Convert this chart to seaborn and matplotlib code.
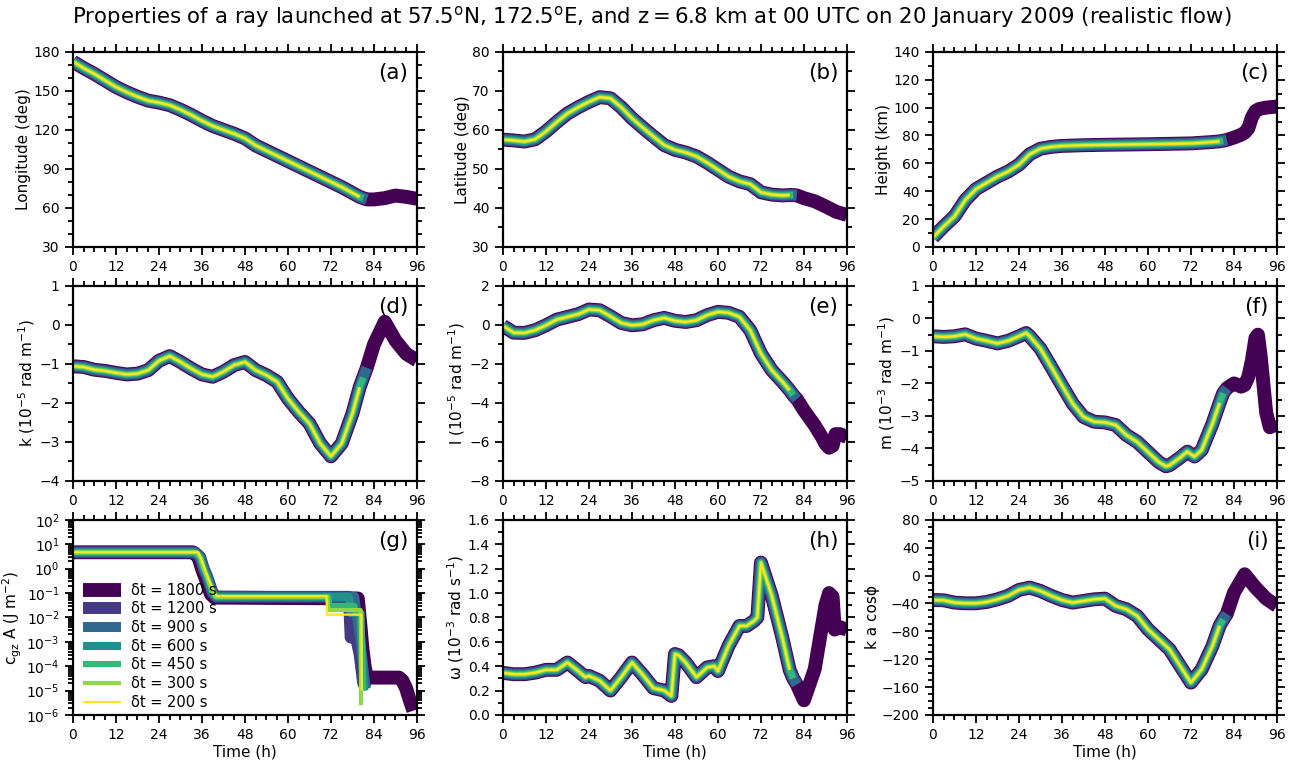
import numpy as np
import matplotlib
matplotlib.use("Agg")
import matplotlib.pyplot as plt
from matplotlib.ticker import MultipleLocator, LogLocator, NullFormatter, FormatStrFormatter
import seaborn as sns

# ---------------- data ----------------
DT_LABELS = [1800, 1200, 900, 600, 450, 300, 200]
SERIES_END = {1800: 96, 1200: 82, 900: 82, 600: 81, 450: 81, 300: 80, 200: 80}

T_COMMON = [0, 3, 6, 9, 12, 15, 18, 21, 24, 27, 30, 33, 36, 39, 42, 45, 48, 51, 54, 57,
            60, 63, 66, 69, 72, 75, 78, 80, 81, 82, 84, 87, 90, 93, 96]

LON = [172.5, 167.5, 163, 158, 153, 149, 145.5, 142.5, 141, 139, 135.5, 131.5, 127, 123,
       120, 117, 113.5, 108, 104, 100, 96, 92, 88, 84, 80, 76, 71.5, 68.5, 67.5, 66.5,
       66.5, 67.5, 69.5, 68.5, 67]

LAT = [57.5, 57.3, 57.0, 57.6, 59.6, 62.0, 64.2, 65.8, 67.2, 68.4, 68.1, 65.8, 63, 60.6,
       58.3, 56.1, 54.9, 54.2, 53.2, 51.6, 49.8, 48.0, 46.8, 46.1, 44, 43.4, 43.2, 43.3,
       43.3, 43.2, 42.5, 41.7, 40.4, 39, 38.2]

T_HGT = [0, 3, 6, 9, 12, 15, 18, 21, 24, 27, 30, 33, 36, 42, 48, 54, 60, 66, 72, 75, 78,
         80, 81, 82, 84, 86, 87, 88, 89, 90, 91, 93, 96]
HGT = [6.8, 14.7, 21.9, 33.5, 41.5, 46, 50.5, 54.1, 59, 66.5, 70.5, 71.8, 72.5, 73, 73.3,
       73.5, 73.7, 74, 74.3, 74.8, 75.3, 75.8, 76.2, 76.8, 78.5, 80.5, 82, 85, 93, 97.5,
       99, 100, 100.8]

K = [-1.06, -1.08, -1.15, -1.18, -1.23, -1.27, -1.25, -1.16, -0.92, -0.8, -0.95, -1.12,
     -1.27, -1.33, -1.2, -1.03, -0.95, -1.16, -1.29, -1.46, -1.89, -2.23, -2.53, -3.04,
     -3.37, -3.04, -2.27, -1.6, -1.35, -1.1, -0.5, 0.08, -0.4, -0.74, -0.91]

T_L = [0, 3, 6, 9, 12, 15, 18, 21, 24, 27, 30, 33, 36, 39, 42, 45, 48, 51, 54, 57, 60, 63,
       66, 69, 72, 75, 78, 80, 81, 82, 84, 87, 89, 90, 91, 92, 92.8, 94, 96]
L = [-0.05, -0.4, -0.41, -0.27, -0.02, 0.27, 0.41, 0.55, 0.79, 0.75, 0.44, 0.1, -0.02, 0.03,
     0.24, 0.36, 0.21, 0.15, 0.24, 0.5, 0.67, 0.62, 0.41, -0.27, -1.47, -2.32, -2.92, -3.35,
     -3.6, -3.8, -4.38, -5.15, -5.75, -6.1, -6.3, -6.2, -5.6, -5.6, -5.75]

T_M = [0, 3, 6, 9, 12, 15, 18, 21, 24, 26, 27, 30, 33, 36, 39, 42, 45, 48, 51, 54, 57, 60,
       63, 65, 66, 69, 71, 72, 73, 75, 78, 80, 81, 82, 84, 86, 87, 88, 89, 90, 90.7, 91.5,
       93, 94, 96]
M = [-0.55, -0.57, -0.55, -0.49, -0.62, -0.69, -0.77, -0.69, -0.55, -0.45, -0.55, -0.93,
     -1.49, -2.06, -2.62, -3.03, -3.18, -3.2, -3.28, -3.59, -3.8, -4.11, -4.42, -4.55,
     -4.52, -4.28, -4.1, -4.18, -4.25, -4.05, -3.24, -2.6, -2.3, -2.15, -2.0, -2.1, -2.05,
     -1.8, -1.3, -0.6, -0.5, -1.2, -2.9, -3.35, -3.25]

T_OMEGA = [0, 3, 6, 9, 12, 15, 18, 21, 23, 24, 27, 30, 33, 36, 39, 42, 45, 47, 48, 49, 51,
           54, 57, 59, 60, 63, 66, 68, 70, 71, 72, 75, 78, 80, 81, 82, 84, 87, 90, 91, 92,
           92.6, 94, 96]
OMEGA = [0.345, 0.334, 0.334, 0.347, 0.37, 0.37, 0.43, 0.36, 0.31, 0.32, 0.28, 0.2, 0.31,
         0.43, 0.33, 0.22, 0.2, 0.156, 0.5, 0.49, 0.43, 0.31, 0.39, 0.4, 0.36, 0.57, 0.73,
         0.73, 0.77, 0.8, 1.25, 0.98, 0.63, 0.37, 0.3, 0.25, 0.12, 0.375, 0.9, 1.0, 0.97,
         0.7, 0.72, 0.7]

KACOS = [-35, -35.4, -38.7, -39.7, -39.7, -37.8, -34, -29, -20.5, -17.2, -22, -29, -35,
         -38.7, -36.3, -34, -33, -43.5, -48.3, -57.9, -77, -91.4, -105.7, -129.7, -153.6,
         -134.5, -101, -72, -63, -55, -24.4, 2, -17, -33, -43.5]

# panel (g): c_gz A for each time step
G_T = {
    1800: [0, 33.5, 35, 36, 37, 38.5, 39.5, 79.5, 80.2, 80.8, 81.4, 82, 91, 92, 93, 94, 95],
    1200: [0, 34, 35.5, 36.5, 37.5, 39, 40, 77, 77.5, 79, 80, 81, 81.8],
    900:  [0, 34, 35.5, 36.5, 37.5, 39, 40, 78.5, 79, 80, 81, 81.7],
    600:  [0, 34, 35.5, 36.5, 37.5, 39, 40, 77, 77.5, 80, 80.5, 81.3],
    450:  [0, 34, 35.5, 36.5, 37.5, 39, 40, 71.3, 71.6, 78.5, 79, 80.5, 81],
    300:  [0, 34.5, 35.5, 36.5, 37.5, 39, 40, 71, 71.3, 80.3, 80.4],
    200:  [0, 35, 35.8, 36.8, 37.6, 39.6, 40.2, 70.8, 70.9, 80.5, 80.6],
}
G_V = {
    1800: [4.7, 4.7, 3.0, 1.0, 0.4, 0.09, 0.065, 0.06, 0.005, 5e-4, 1e-4, 3.4e-5, 3.4e-5,
           2.5e-5, 1.2e-5, 4e-6, 1.5e-6],
    1200: [4.7, 4.7, 3.0, 1.0, 0.45, 0.1, 0.07, 0.07, 1.5e-3, 1.5e-3, 3e-4, 2e-5, 1.2e-5],
    900:  [4.7, 4.7, 3.0, 1.0, 0.45, 0.1, 0.07, 0.07, 0.02, 2e-3, 1e-4, 1.2e-5],
    600:  [4.7, 4.7, 3.0, 1.0, 0.45, 0.1, 0.07, 0.07, 0.015, 0.015, 1e-3, 1e-5],
    450:  [4.7, 4.7, 3.0, 1.0, 0.45, 0.1, 0.07, 0.07, 0.03, 0.03, 0.015, 0.015, 1e-5],
    300:  [4.7, 4.7, 3.0, 1.0, 0.45, 0.1, 0.07, 0.07, 0.02, 0.02, 2.5e-6],
    200:  [4.7, 4.7, 2.5, 0.95, 0.45, 0.1, 0.075, 0.075, 0.013, 0.013, 1e-5],
}

# ---------------- style ----------------
sns.set_style("ticks")
plt.rcParams["font.family"] = ["DejaVu Sans"]
plt.rcParams["axes.edgecolor"] = "black"
plt.rcParams["xtick.color"] = "black"
plt.rcParams["ytick.color"] = "black"
plt.rcParams["text.color"] = "black"
plt.rcParams["axes.labelcolor"] = "black"

COLORS = [matplotlib.colormaps["viridis"](x) for x in np.linspace(0, 1, len(DT_LABELS))]
WIDTHS = [10.0, 8.6, 7.2, 5.8, 4.4, 3.0, 1.6]

fig, axes = plt.subplots(3, 3, figsize=(13.03, 7.63), dpi=100)
fig.subplots_adjust(left=0.056, right=0.980, top=0.932, bottom=0.063,
                    wspace=0.25, hspace=0.2)

panels = [
    ("a", T_COMMON, LON, (30, 180), 30, 10, "Longitude (deg)"),
    ("b", T_COMMON, LAT, (30, 80), 10, 5, "Latitude (deg)"),
    ("c", T_HGT, HGT, (0, 140), 20, 10, "Height (km)"),
    ("d", T_COMMON, K, (-4, 1), 1, 0.5, r"k (10$^{-5}$ rad m$^{-1}$)"),
    ("e", T_L, L, (-8, 2), 2, 1, r"l (10$^{-5}$ rad m$^{-1}$)"),
    ("f", T_M, M, (-5, 1), 1, 0.5, r"m (10$^{-3}$ rad m$^{-1}$)"),
    ("g", None, None, (1e-6, 1e2), None, None, r"c$_{\rm gz}$ A (J m$^{-2}$)"),
    ("h", T_OMEGA, OMEGA, (0, 1.6), 0.2, 0.1, r"ω (10$^{-3}$ rad s$^{-1}$)"),
    ("i", T_COMMON, KACOS, (-200, 80), 40, 10, "k a cosϕ"),
]

for ax, (tag, t, v, ylim, major, minor, ylabel) in zip(axes.flat, panels):
    for dt, col, lw in zip(DT_LABELS, COLORS, WIDTHS):
        if tag == "g":
            tt = np.array(G_T[dt], dtype=float)
            vv = np.array(G_V[dt], dtype=float)
        else:
            tt = np.array(t, dtype=float)
            vv = np.array(v, dtype=float)
            keep = tt <= SERIES_END[dt]
            tt, vv = tt[keep], vv[keep]
        sns.lineplot(x=tt, y=vv, ax=ax, color=col, linewidth=lw, sort=False,
                     estimator=None, legend=False, label=f"δt = {dt} s",
                     solid_capstyle="butt", solid_joinstyle="round")
    ax.set_xlim(0, 96)
    ax.set_xticks(np.arange(0, 97, 12))
    ax.xaxis.set_minor_locator(MultipleLocator(3))
    if tag == "g":
        ax.set_yscale("log")
        ax.set_ylim(*ylim)
        ax.yaxis.set_major_locator(LogLocator(base=10, numticks=20))
        ax.yaxis.set_minor_locator(LogLocator(base=10, subs=np.arange(2, 10), numticks=20))
        ax.yaxis.set_minor_formatter(NullFormatter())
        ax.legend(loc="upper left", bbox_to_anchor=(0.0, 0.73), frameon=False,
                  fontsize=10.5, handlelength=2.6, labelspacing=0.25,
                  borderaxespad=0.3, handletextpad=0.7)
    else:
        ax.set_ylim(*ylim)
        ax.yaxis.set_major_locator(MultipleLocator(major))
        ax.yaxis.set_minor_locator(MultipleLocator(minor))
        if tag == "h":
            ax.yaxis.set_major_formatter(FormatStrFormatter("%.1f"))
    ax.tick_params(which="both", direction="out", top=True, right=True,
                   labelsize=10, width=1.3)
    ax.tick_params(which="major", length=6)
    ax.tick_params(which="minor", length=3.5)
    for sp in ax.spines.values():
        sp.set_visible(True)
        sp.set_linewidth(1.6)
        sp.set_color("black")
    ax.set_ylabel(ylabel, fontsize=11, labelpad=1.5)
    ax.set_xlabel("Time (h)" if tag in ("g", "h", "i") else "", fontsize=11, labelpad=2)
    ax.text(0.975, 0.945, f"({tag})", transform=ax.transAxes, ha="right", va="top",
            fontsize=15.5)

fig.suptitle(r"Properties of a ray launched at 57.5$^{\rm o}$N, 172.5$^{\rm o}$E, "
             r"and $\rm z = 6.8$ km at 00 UTC on 20 January 2009 (realistic flow)",
             fontsize=15.3, y=0.995, va="top")

fig.savefig("out.png", dpi=100)
